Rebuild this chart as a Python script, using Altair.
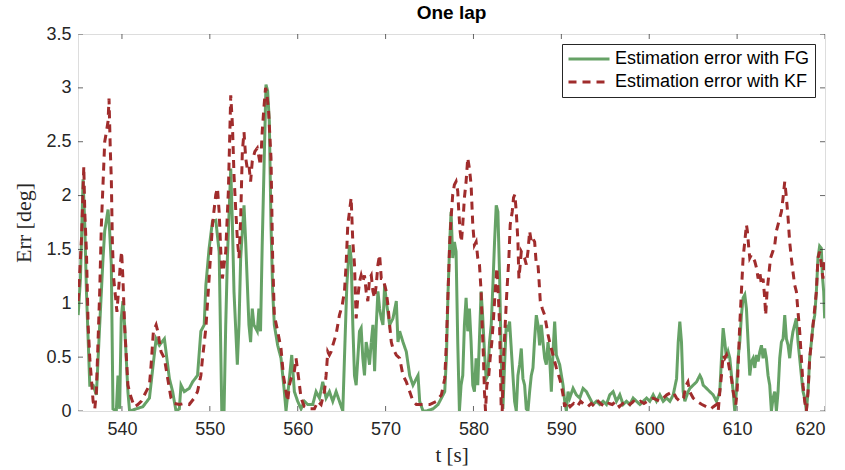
import altair as alt
import pandas as pd

FG_NAME = "Estimation error with FG"
KF_NAME = "Estimation error with KF"

fg_t = [535.02,535.28,535.58,535.77,535.96,536.34,536.72,537.09,537.47,537.85,538.04,538.42,538.60,538.79,538.98,539.36,539.55,539.74,539.92,540.11,540.30,540.68,540.87,541.62,542.38,543.13,543.51,543.89,544.26,544.83,545.40,545.77,546.15,546.53,546.72,547.09,547.66,548.04,548.60,548.98,549.36,549.55,549.92,550.30,550.68,551.06,551.36,551.62,551.81,552.00,552.38,552.57,552.75,553.13,553.32,553.51,553.89,554.08,554.45,554.64,554.83,555.02,555.40,555.58,555.77,555.96,556.39,556.58,556.77,556.96,557.15,557.34,557.72,558.10,558.48,558.67,559.05,559.32,559.62,560.00,560.38,560.76,561.14,561.71,562.09,562.47,562.85,563.23,563.61,563.99,564.37,564.75,565.13,565.32,565.59,565.89,566.08,566.27,566.46,566.65,566.84,567.03,567.22,567.41,567.60,567.79,567.98,568.17,568.37,568.56,568.75,568.94,569.13,569.32,569.51,569.70,569.89,570.08,570.46,570.84,571.22,571.41,571.60,571.98,572.36,572.74,573.12,573.69,573.88,574.26,574.64,575.40,575.97,576.35,576.73,576.92,577.11,577.30,577.45,577.64,577.83,578.02,578.21,578.40,578.59,578.78,578.97,579.16,579.35,579.54,579.73,579.92,580.11,580.30,580.49,580.68,580.87,581.06,581.25,581.44,581.63,581.83,582.02,582.21,582.40,582.59,582.78,582.97,583.16,583.35,583.54,583.73,583.92,584.11,584.30,584.49,584.68,584.87,585.06,585.25,585.44,585.63,585.82,586.01,586.20,586.39,586.58,586.77,586.96,587.15,587.34,587.53,587.72,587.91,588.10,588.29,588.48,588.67,588.86,589.05,589.24,589.43,589.81,590.19,590.38,590.57,590.76,590.95,591.33,591.71,592.09,592.47,592.85,593.23,593.61,593.99,594.37,594.75,595.13,595.51,595.89,596.27,596.65,597.03,597.41,597.79,598.17,598.56,598.94,599.32,599.70,600.07,600.45,600.83,601.21,601.59,601.97,602.35,602.73,603.11,603.30,603.48,603.67,603.86,604.05,604.43,604.62,605.00,605.38,605.76,605.95,606.14,606.52,606.89,607.27,607.65,608.03,608.22,608.41,608.60,608.79,608.98,609.17,609.36,609.55,609.73,609.92,610.11,610.30,610.49,610.68,610.87,611.06,611.25,611.44,611.63,611.82,612.01,612.20,612.39,612.58,612.77,612.95,613.14,613.33,613.52,613.71,613.90,614.09,614.28,614.47,614.66,614.85,615.04,615.23,615.42,615.61,615.80,615.98,616.17,616.36,616.55,616.74,616.93,617.12,617.31,617.50,617.69,617.88,618.07,618.26,618.45,618.64,618.83,619.02,619.20,619.39,619.58,619.70,619.85,619.96]
fg_err = [0.89,1.23,2.15,1.73,1.11,0.24,0.24,0.15,0.80,1.42,1.67,1.87,1.67,1.36,0.02,0.00,0.33,0.02,0.86,1.02,0.80,0.18,0.00,0.02,0.04,0.12,0.40,0.67,0.61,0.67,0.30,0.18,0.00,0.02,0.24,0.18,0.21,0.27,0.33,0.74,0.80,1.17,1.51,1.76,1.77,1.48,0.00,0.00,0.80,1.42,2.25,1.73,1.11,0.43,0.80,1.42,1.91,1.57,0.80,0.64,0.95,0.80,0.74,0.95,0.74,1.54,3.03,2.97,2.69,1.73,1.11,0.80,0.61,0.49,0.18,0.00,0.30,0.52,0.18,0.09,0.02,0.09,0.06,0.06,0.18,0.12,0.27,0.12,0.18,0.09,0.18,0.09,0.00,0.49,1.17,1.54,1.42,0.80,0.33,0.24,0.49,0.74,0.77,0.49,0.33,0.64,0.55,0.43,0.64,0.80,0.37,0.80,1.11,0.95,0.86,0.80,1.17,1.02,0.80,0.86,1.02,0.64,0.74,0.64,0.55,0.33,0.24,0.33,0.09,0.00,0.00,0.02,0.06,0.12,0.18,0.49,1.11,1.57,1.85,1.42,1.57,1.48,0.64,0.00,0.24,0.33,0.80,1.05,0.74,0.95,0.64,0.24,0.18,0.49,0.24,0.67,1.11,0.86,0.55,0.30,0.33,0.64,0.80,1.17,1.57,1.91,1.85,1.26,0.49,0.02,0.43,0.80,0.74,0.83,0.58,0.33,0.09,0.00,0.33,0.43,0.58,0.30,0.24,0.02,0.00,0.18,0.33,0.40,0.67,0.89,0.80,0.61,0.80,0.64,0.49,0.43,0.64,0.49,0.18,0.55,0.83,0.52,0.43,0.24,0.09,0.00,0.18,0.12,0.21,0.15,0.12,0.21,0.18,0.12,0.06,0.09,0.06,0.09,0.06,0.15,0.18,0.09,0.15,0.06,0.09,0.06,0.12,0.09,0.06,0.09,0.12,0.09,0.15,0.09,0.15,0.09,0.12,0.09,0.15,0.30,0.64,0.83,0.64,0.18,0.09,0.18,0.21,0.24,0.27,0.33,0.30,0.24,0.21,0.18,0.15,0.09,0.18,0.49,0.77,0.64,0.49,0.55,0.49,0.33,0.18,0.00,0.18,0.49,0.64,0.89,1.05,1.08,0.95,0.64,0.33,0.46,0.49,0.40,0.52,0.46,0.55,0.61,0.49,0.58,0.49,0.33,0.24,0.00,0.12,0.18,0.00,0.18,0.49,0.64,0.67,0.89,0.67,0.61,0.49,0.64,0.74,0.80,0.86,0.64,0.49,0.33,0.18,0.12,0.00,0.18,0.49,0.64,0.80,0.89,1.11,1.42,1.53,1.51,1.26,1.11,0.86]

kf_t = [535.02,535.40,535.66,535.77,535.96,536.15,536.34,536.72,536.91,537.09,537.47,537.66,538.04,538.23,538.42,538.53,538.68,538.79,538.91,539.06,539.28,539.43,539.66,539.81,539.96,540.11,540.30,540.68,541.06,541.43,541.81,542.19,542.75,543.13,543.32,543.58,543.89,544.08,544.45,544.83,545.21,545.58,545.96,546.53,547.09,547.66,548.23,548.60,548.98,549.17,549.55,549.92,550.30,550.68,550.87,551.06,551.25,551.43,551.62,551.81,552.11,552.38,552.57,552.75,552.94,553.13,553.32,553.51,553.70,553.89,554.08,554.26,554.45,554.64,554.83,555.13,555.40,555.77,555.96,556.15,556.34,556.46,556.69,556.96,557.15,557.34,557.72,558.10,558.37,558.67,558.86,559.05,559.24,559.62,559.81,560.11,560.38,560.76,561.33,561.90,562.28,562.66,563.04,563.23,563.42,563.61,563.80,563.99,564.37,564.75,565.06,565.32,565.51,565.70,565.89,566.08,566.27,566.46,566.65,566.84,567.03,567.22,567.41,567.60,567.79,567.98,568.17,568.37,568.56,568.75,568.94,569.13,569.32,569.51,569.70,569.89,570.08,570.27,570.46,570.65,570.84,571.22,571.60,571.98,572.36,572.74,573.12,573.50,574.26,575.02,575.78,576.35,576.73,576.92,577.11,577.30,577.45,577.64,577.83,578.02,578.21,578.33,578.48,578.63,578.78,578.97,579.16,579.35,579.54,579.73,579.92,580.11,580.30,580.49,580.68,580.87,580.99,581.14,581.25,581.37,581.52,581.71,581.90,582.09,582.28,582.47,582.66,582.81,582.97,583.16,583.27,583.42,583.61,583.80,584.03,584.18,584.41,584.56,584.71,584.87,585.06,585.17,585.32,585.44,585.63,585.82,586.01,586.20,586.39,586.58,586.77,586.96,587.15,587.34,587.45,587.60,587.83,588.10,588.29,588.48,588.67,589.05,589.43,589.81,590.00,590.19,590.38,590.60,591.00,591.40,591.80,592.20,592.60,593.00,593.40,593.80,594.20,594.60,595.00,595.40,595.80,596.20,596.60,597.00,597.40,597.80,598.20,598.60,599.00,599.40,599.80,600.45,601.20,602.00,602.70,603.10,603.50,603.90,604.20,604.40,604.60,605.00,605.40,606.00,606.50,607.00,607.30,607.65,607.85,608.03,608.22,608.41,608.60,608.79,608.98,609.17,609.36,609.55,609.85,610.00,610.15,610.30,610.49,610.68,610.87,611.06,611.17,611.30,611.44,611.63,611.82,612.01,612.20,612.39,612.58,612.77,612.95,613.14,613.25,613.41,613.60,613.80,614.06,614.28,614.47,614.66,614.85,615.04,615.23,615.42,615.61,615.80,615.98,616.17,616.36,616.55,616.74,616.93,617.12,617.31,617.50,617.69,617.88,618.07,618.26,618.45,618.64,618.83,619.02,619.20,619.39,619.58,619.77,619.96]
kf_err = [1.02,1.60,2.27,1.85,1.48,0.80,0.49,0.09,0.02,0.18,1.11,1.73,2.50,2.59,2.69,2.90,2.41,2.16,1.57,1.23,1.05,0.92,1.17,1.36,1.48,1.23,0.80,0.24,0.12,0.04,0.06,0.09,0.18,0.24,0.43,0.74,0.80,0.74,0.55,0.49,0.30,0.12,0.07,0.06,0.07,0.06,0.12,0.18,0.33,0.49,0.77,1.23,1.73,2.01,2.07,1.85,1.48,1.23,1.36,1.48,2.04,2.93,2.66,2.19,1.88,1.60,1.42,1.79,2.41,2.59,2.35,2.25,2.28,2.13,2.32,2.41,2.44,2.28,2.59,2.81,3.00,2.97,2.78,2.35,1.42,0.89,0.74,0.58,0.33,0.18,0.09,0.24,0.30,0.37,0.49,0.30,0.12,0.04,0.02,0.02,0.09,0.06,0.18,0.33,0.55,0.52,0.55,0.61,0.71,0.89,0.98,1.11,1.36,1.73,1.85,1.98,1.57,1.36,0.86,1.05,1.20,1.26,1.20,1.26,1.11,1.02,1.23,1.26,1.11,1.05,1.17,1.36,1.45,1.23,1.23,1.17,1.11,0.98,0.80,0.64,0.58,0.52,0.49,0.33,0.27,0.18,0.09,0.06,0.06,0.06,0.09,0.15,0.30,0.64,1.11,1.57,1.79,2.01,2.10,2.13,2.04,1.85,1.67,1.57,1.73,1.98,2.13,2.35,2.25,2.10,1.73,1.54,1.57,1.42,1.36,1.11,0.80,0.49,0.18,0.00,0.24,0.30,0.49,0.64,0.86,1.11,1.33,1.11,0.80,0.00,0.00,0.49,0.80,1.11,1.42,1.73,1.85,1.98,2.01,1.85,1.57,1.23,1.36,1.48,1.45,1.42,1.36,1.48,1.67,1.57,1.60,1.57,1.36,1.36,1.23,1.02,0.95,0.89,0.80,0.71,0.64,0.52,0.40,0.30,0.24,0.15,0.04,0.09,0.04,0.07,0.04,0.09,0.06,0.04,0.07,0.04,0.09,0.06,0.04,0.07,0.06,0.09,0.04,0.07,0.09,0.06,0.09,0.07,0.09,0.07,0.09,0.12,0.09,0.15,0.18,0.12,0.09,0.12,0.24,0.27,0.18,0.12,0.09,0.06,0.04,0.02,0.04,0.06,0.00,0.18,0.33,0.52,0.49,0.52,0.46,0.37,0.30,0.18,0.06,0.18,0.49,0.80,1.11,1.42,1.57,1.73,1.67,1.54,1.42,1.45,1.42,1.39,1.33,1.23,1.29,1.17,1.23,1.05,0.89,1.11,1.26,1.42,1.48,1.54,1.67,1.73,1.79,1.85,1.98,2.13,1.98,1.79,1.57,1.42,1.29,1.17,1.11,0.92,0.74,0.49,0.24,0.09,0.00,0.18,0.49,0.64,0.80,0.95,1.11,1.42,1.48,1.36,1.23,1.42]

x_ticks = [540, 550, 560, 570, 580, 590, 600, 610, 620]
y_ticks = [0, 0.5, 1, 1.5, 2, 2.5, 3, 3.5]

df = pd.concat([
    pd.DataFrame({"t": fg_t, "err": fg_err, "series": FG_NAME}),
    pd.DataFrame({"t": kf_t, "err": kf_err, "series": KF_NAME}),
], ignore_index=True)

AX = "#262626"
xs = alt.Scale(domain=[535, 620], nice=False, zero=False)
ys = alt.Scale(domain=[0, 3.5], nice=False, zero=False)

legend = alt.Legend(
    title=None, orient="top-right", offset=10, strokeColor=AX, fillColor="white",
    padding=5, labelFont="Liberation Sans", labelFontSize=18, labelColor="#000000",
    labelLimit=400, symbolType="stroke", symbolSize=1681, symbolStrokeWidth=3,
    clipHeight=20, rowPadding=3, labelOffset=4,
)

lines = alt.Chart(df).mark_line(strokeWidth=3, clip=True).encode(
    x=alt.X("t:Q", scale=xs, axis=alt.Axis(
        values=x_ticks, title="t [s]", ticks=False, domain=False, grid=False,
        labelFont="Liberation Sans", labelFontSize=18, labelColor=AX, labelPadding=9,
        titleFont="Liberation Serif", titleFontSize=21, titleFontWeight="normal",
        titleColor=AX, titlePadding=6)),
    y=alt.Y("err:Q", scale=ys, axis=alt.Axis(
        values=y_ticks, title="Err [deg]", ticks=False, domain=False, grid=False,
        format="~g", labelFont="Liberation Sans", labelFontSize=18, labelColor=AX,
        labelPadding=7, titleFont="Liberation Serif", titleFontSize=22,
        titleFontWeight="normal", titleColor=AX, titlePadding=10)),
    color=alt.Color("series:N", scale=alt.Scale(domain=[FG_NAME, KF_NAME],
                                                range=["#66a266", "#a02c2c"]),
                    legend=legend),
    strokeDash=alt.StrokeDash("series:N", scale=alt.Scale(domain=[FG_NAME, KF_NAME],
                                                         range=[[1, 0], [8, 6]]),
                              legend=legend),
    order=alt.Order("t:Q"),
)

bottom = pd.DataFrame({"t": x_ticks, "err": [0.0] * len(x_ticks)})
top = pd.DataFrame({"t": x_ticks, "err": [3.5] * len(x_ticks)})
left = pd.DataFrame({"t": [535.0] * len(y_ticks), "err": y_ticks})
right = pd.DataFrame({"t": [620.0] * len(y_ticks), "err": y_ticks})

def ticks(d, orient):
    return alt.Chart(d).mark_tick(orient=orient, size=10, thickness=1,
                                  color=AX, clip=True).encode(
        x=alt.X("t:Q", scale=xs), y=alt.Y("err:Q", scale=ys))

chart = alt.layer(
    lines,
    ticks(bottom, "vertical"), ticks(top, "vertical"),
    ticks(left, "horizontal"), ticks(right, "horizontal"),
).properties(
    width=747, height=377,
    autosize=alt.AutoSizeParams(type="none"),
    padding={"left": 78, "top": 34, "right": 20, "bottom": 59},
    title=alt.Title("One lap", font="Liberation Sans", fontSize=19, fontWeight="bold",
                    color="#000000", anchor="middle", frame="group", offset=2),
).configure_view(
    stroke=AX, strokeWidth=1
).configure(background="white")

chart.save("out.html", embed_options={"renderer": "svg", "actions": False})
